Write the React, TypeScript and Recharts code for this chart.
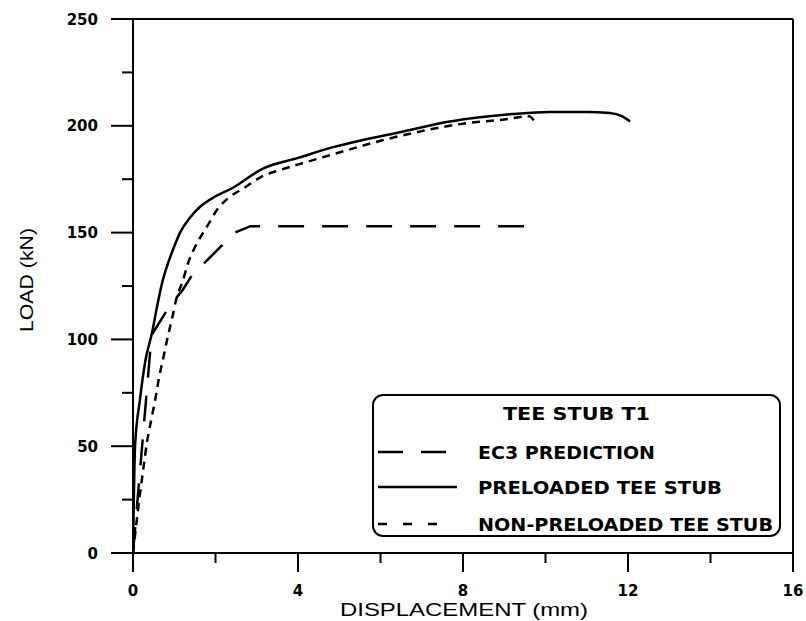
import { LineChart, Line, XAxis, YAxis, ReferenceLine } from 'recharts';

// EC3 prediction (long dashes)
const ec3Disp = [0, 0.45, 0.9, 1.2, 1.43, 2.0, 2.47, 2.85, 9.9];
const ec3Load = [0, 102, 116, 123, 130, 141, 150, 153, 153];

// preloaded tee stub (solid)
const preDisp = [0, 0.05, 0.17, 0.3, 0.46, 0.58, 0.7, 0.82, 0.98, 1.14, 1.38, 1.62, 2.0, 2.42, 3.15, 4.0, 4.85, 5.6, 6.47, 7.68, 8.41, 9.2, 10.1, 11.0, 11.56, 11.85, 12.05];
const preLoad = [0, 50, 72, 90, 103, 115, 126, 134, 142.5, 150, 157, 162, 167, 171, 180, 185, 190, 193.5, 197, 202, 204, 205.5, 206.5, 206.5, 206, 204.5, 202];

// non-preloaded tee stub (short dashes)
const nonDisp = [0, 0.12, 0.24, 0.34, 0.46, 0.55, 0.63, 0.72, 0.84, 0.95, 1.05, 1.2, 1.34, 1.55, 1.8, 2.05, 2.3, 2.7, 3.1, 3.6, 4.2, 5.0, 6.0, 7.0, 8.0, 9.0, 9.6, 9.75];
const nonLoad = [0, 20, 38, 52, 64, 73, 82, 90, 101, 110, 119, 127, 136, 145, 153, 161, 166, 171, 176, 179.5, 183, 187.5, 193, 197.5, 201, 203, 204.5, 201.5];

const yTicks = [0, 25, 50, 75, 100, 125, 150, 175, 200, 225, 250];
const xTicks = [0, 2, 4, 6, 8, 10, 12, 14, 16];

const toRows = (xs: number[], ys: number[]) => xs.map((x, i) => ({ x, y: ys[i] }));
const ec3Data = toRows(ec3Disp, ec3Load);
const preData = toRows(preDisp, preLoad);
const nonData = toRows(nonDisp, nonLoad);

const tickFont = { fontFamily: '"DejaVu Sans", sans-serif', fontWeight: 700, fontSize: 15, fill: '#000' };

const YTick = (props: any) => {
  const { x, y, payload } = props;
  const major = payload.value % 50 === 0;
  return (
    <g>
      <line x1={x - (major ? 22 : 11)} x2={x} y1={y} y2={y} stroke="#000" strokeWidth={2} />
      {major && (
        <text x={x - 35} y={y + 5.5} textAnchor="end" {...tickFont}>
          {payload.value}
        </text>
      )}
    </g>
  );
};

const XTick = (props: any) => {
  const { x, y, payload } = props;
  const major = payload.value % 4 === 0;
  return (
    <g>
      <line x1={x} x2={x} y1={y} y2={y + (major ? 19 : 10)} stroke="#000" strokeWidth={2} />
      {major && (
        <text x={x} y={y + 43} textAnchor="middle" {...tickFont}>
          {payload.value}
        </text>
      )}
    </g>
  );
};

const legendFont = { fontFamily: '"DejaVu Sans", sans-serif', fontWeight: 700, fontSize: 18, fill: '#000' };
const titleFont = { fontFamily: '"Liberation Sans", Arial, sans-serif', fontSize: 19, fill: '#000' };

export default function App() {
  return (
    <div style={{ position: 'fixed', left: 0, top: 0, width: 806, height: 621, overflow: 'hidden', background: '#fff' }}>
      <LineChart width={806} height={621} margin={{ top: 19, right: 13, left: 0, bottom: 0 }}>
        <XAxis
          type="number"
          dataKey="x"
          domain={[0, 16]}
          ticks={xTicks}
          height={68}
          tickSize={0}
          tickMargin={0}
          tick={<XTick />}
          axisLine={{ stroke: '#000', strokeWidth: 2 }}
          allowDataOverflow
        />
        <YAxis
          type="number"
          domain={[0, 250]}
          ticks={yTicks}
          width={133}
          tickSize={0}
          tickMargin={0}
          tick={<YTick />}
          axisLine={{ stroke: '#000', strokeWidth: 2 }}
          allowDataOverflow
        />
        <ReferenceLine y={250} stroke="#000" strokeWidth={2} />
        <ReferenceLine x={16} stroke="#000" strokeWidth={2} />
        <Line data={ec3Data} dataKey="y" type="linear" stroke="#000" strokeWidth={2.5} strokeDasharray="26 18" dot={false} isAnimationActive={false} />
        <Line data={preData} dataKey="y" type="monotone" stroke="#000" strokeWidth={2.5} dot={false} isAnimationActive={false} />
        <Line data={nonData} dataKey="y" type="monotone" stroke="#000" strokeWidth={2.5} strokeDasharray="8 6" dot={false} isAnimationActive={false} />
      </LineChart>
      <svg width={806} height={621} style={{ position: 'absolute', left: 0, top: 0, pointerEvents: 'none' }}>
        <rect x={373} y={395} width={407} height={141} rx={10} fill="#fff" stroke="#000" strokeWidth={2} />
        <text x={503} y={420} textLength={147} lengthAdjust="spacingAndGlyphs" {...legendFont}>TEE STUB T1</text>
        <line x1={378} x2={448} y1={452} y2={452} stroke="#000" strokeWidth={2.5} strokeDasharray="25 18" />
        <text x={478} y={459} textLength={177} lengthAdjust="spacingAndGlyphs" {...legendFont}>EC3 PREDICTION</text>
        <line x1={378} x2={457} y1={487} y2={487} stroke="#000" strokeWidth={2.5} />
        <text x={478} y={494} textLength={244} lengthAdjust="spacingAndGlyphs" {...legendFont}>PRELOADED TEE STUB</text>
        <line x1={378} x2={440} y1={524} y2={524} stroke="#000" strokeWidth={2.5} strokeDasharray="9 16" />
        <text x={478} y={531} textLength={295} lengthAdjust="spacingAndGlyphs" {...legendFont}>NON-PRELOADED TEE STUB</text>
        <text x={340} y={616} textLength={248} lengthAdjust="spacingAndGlyphs" {...titleFont}>DISPLACEMENT (mm)</text>
        <text transform="translate(33,332) rotate(-90)" textLength={104} lengthAdjust="spacingAndGlyphs" {...titleFont}>LOAD (kN)</text>
      </svg>
    </div>
  );
}
